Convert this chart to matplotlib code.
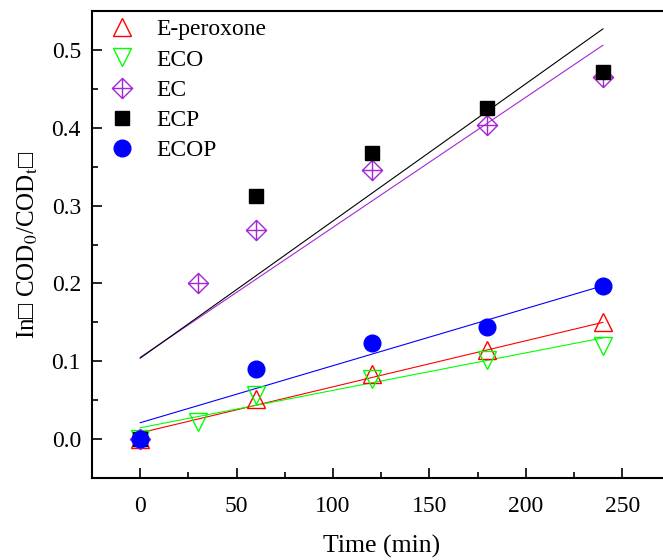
import numpy as np
import matplotlib
matplotlib.use("Agg")
import matplotlib.pyplot as plt
from matplotlib.path import Path

plt.rcParams['font.family'] = ['Liberation Serif', 'DejaVu Sans']
plt.rcParams['mathtext.fontset'] = 'stix'

# measured data (time in min, ln(COD0/CODt))
t5 = [0, 60, 120, 180, 240]
t6 = [0, 30, 60, 120, 180, 240]
e_peroxone = [0, 0.051, 0.083, 0.114, 0.151]
eco = [0, 0.022, 0.056, 0.077, 0.101, 0.119]
ec = [0, 0.200, 0.268, 0.346, 0.404, 0.465]
ecp = [0, 0.312, 0.368, 0.426, 0.472]
ecop = [0, 0.090, 0.123, 0.144, 0.197]

# linear fit lines, values at the two ends
fit_t = [0, 240]
fit_e_peroxone = [0.008, 0.150]
fit_eco = [0.0145, 0.130]
fit_ec = [0.105, 0.506]
fit_ecp = [0.104, 0.527]
fit_ecop = [0.021, 0.197]

purple = '#A526D6'

# diamond with a cross inside
diamond_cross = Path(
    [(0, 1), (1, 0), (0, -1), (-1, 0), (0, 1), (0, 1), (0, -1), (-1, 0), (1, 0)],
    [Path.MOVETO, Path.LINETO, Path.LINETO, Path.LINETO, Path.CLOSEPOLY,
     Path.MOVETO, Path.LINETO, Path.MOVETO, Path.LINETO])

fig = plt.figure(figsize=(6.63, 5.6), dpi=100)
ax = fig.add_axes([92 / 663, 82 / 560, 578.4 / 663, 467 / 560])

# fit lines
ax.plot(fit_t, fit_e_peroxone, color='red', lw=0.8)
ax.plot(fit_t, fit_eco, color='#00FF00', lw=0.8)
ax.plot(fit_t, fit_ec, color=purple, lw=0.8)
ax.plot(fit_t, fit_ecp, color='black', lw=0.8)
ax.plot(fit_t, fit_ecop, color='blue', lw=0.8)

# data points
ax.plot(t5, e_peroxone, ls='none', marker='^', ms=13, mfc='none', mec='red', mew=1.0, label='E-peroxone')
ax.plot(t6, eco, ls='none', marker='v', ms=13, mfc='none', mec='#00FF00', mew=1.0, label='ECO')
ax.plot(t6, ec, ls='none', marker=diamond_cross, ms=14.5, mfc='none', mec=purple, mew=1.0, label='EC')
ax.plot(t5, ecp, ls='none', marker='s', ms=10.5, color='black', label='ECP')
ax.plot(t5, ecop, ls='none', marker='o', ms=12, color='blue', label='ECOP')

ax.set_xlim(-25, 275)
ax.set_ylim(-0.05, 0.55)
ax.set_xticks([0, 50, 100, 150, 200, 250])
ax.set_xticks(np.arange(25, 275, 50), minor=True)
ax.set_yticks([0.0, 0.1, 0.2, 0.3, 0.4, 0.5])
ax.set_yticks(np.arange(-0.05, 0.55, 0.1), minor=True)
ax.tick_params(which='both', direction='in', labelsize=17, width=1.2)
ax.tick_params(which='major', length=7)
ax.tick_params(which='minor', length=4)
ax.tick_params(axis='x', pad=13)
ax.tick_params(axis='y', pad=8)
for s in ax.spines.values():
    s.set_linewidth(1.5)

ax.set_xlabel('Time (min)', fontsize=18.5, labelpad=13)
ax.set_ylabel('In\u25a1 COD$_0$/COD$_\\mathrm{t}$\u25a1', fontsize=18, labelpad=8)

ax.legend(loc='upper left', bbox_to_anchor=(0.005, 1.011), frameon=False, fontsize=17,
          handlelength=1.2, handletextpad=0.87, labelspacing=0.37, borderaxespad=0.15)

fig.savefig('out.png', dpi=100)
